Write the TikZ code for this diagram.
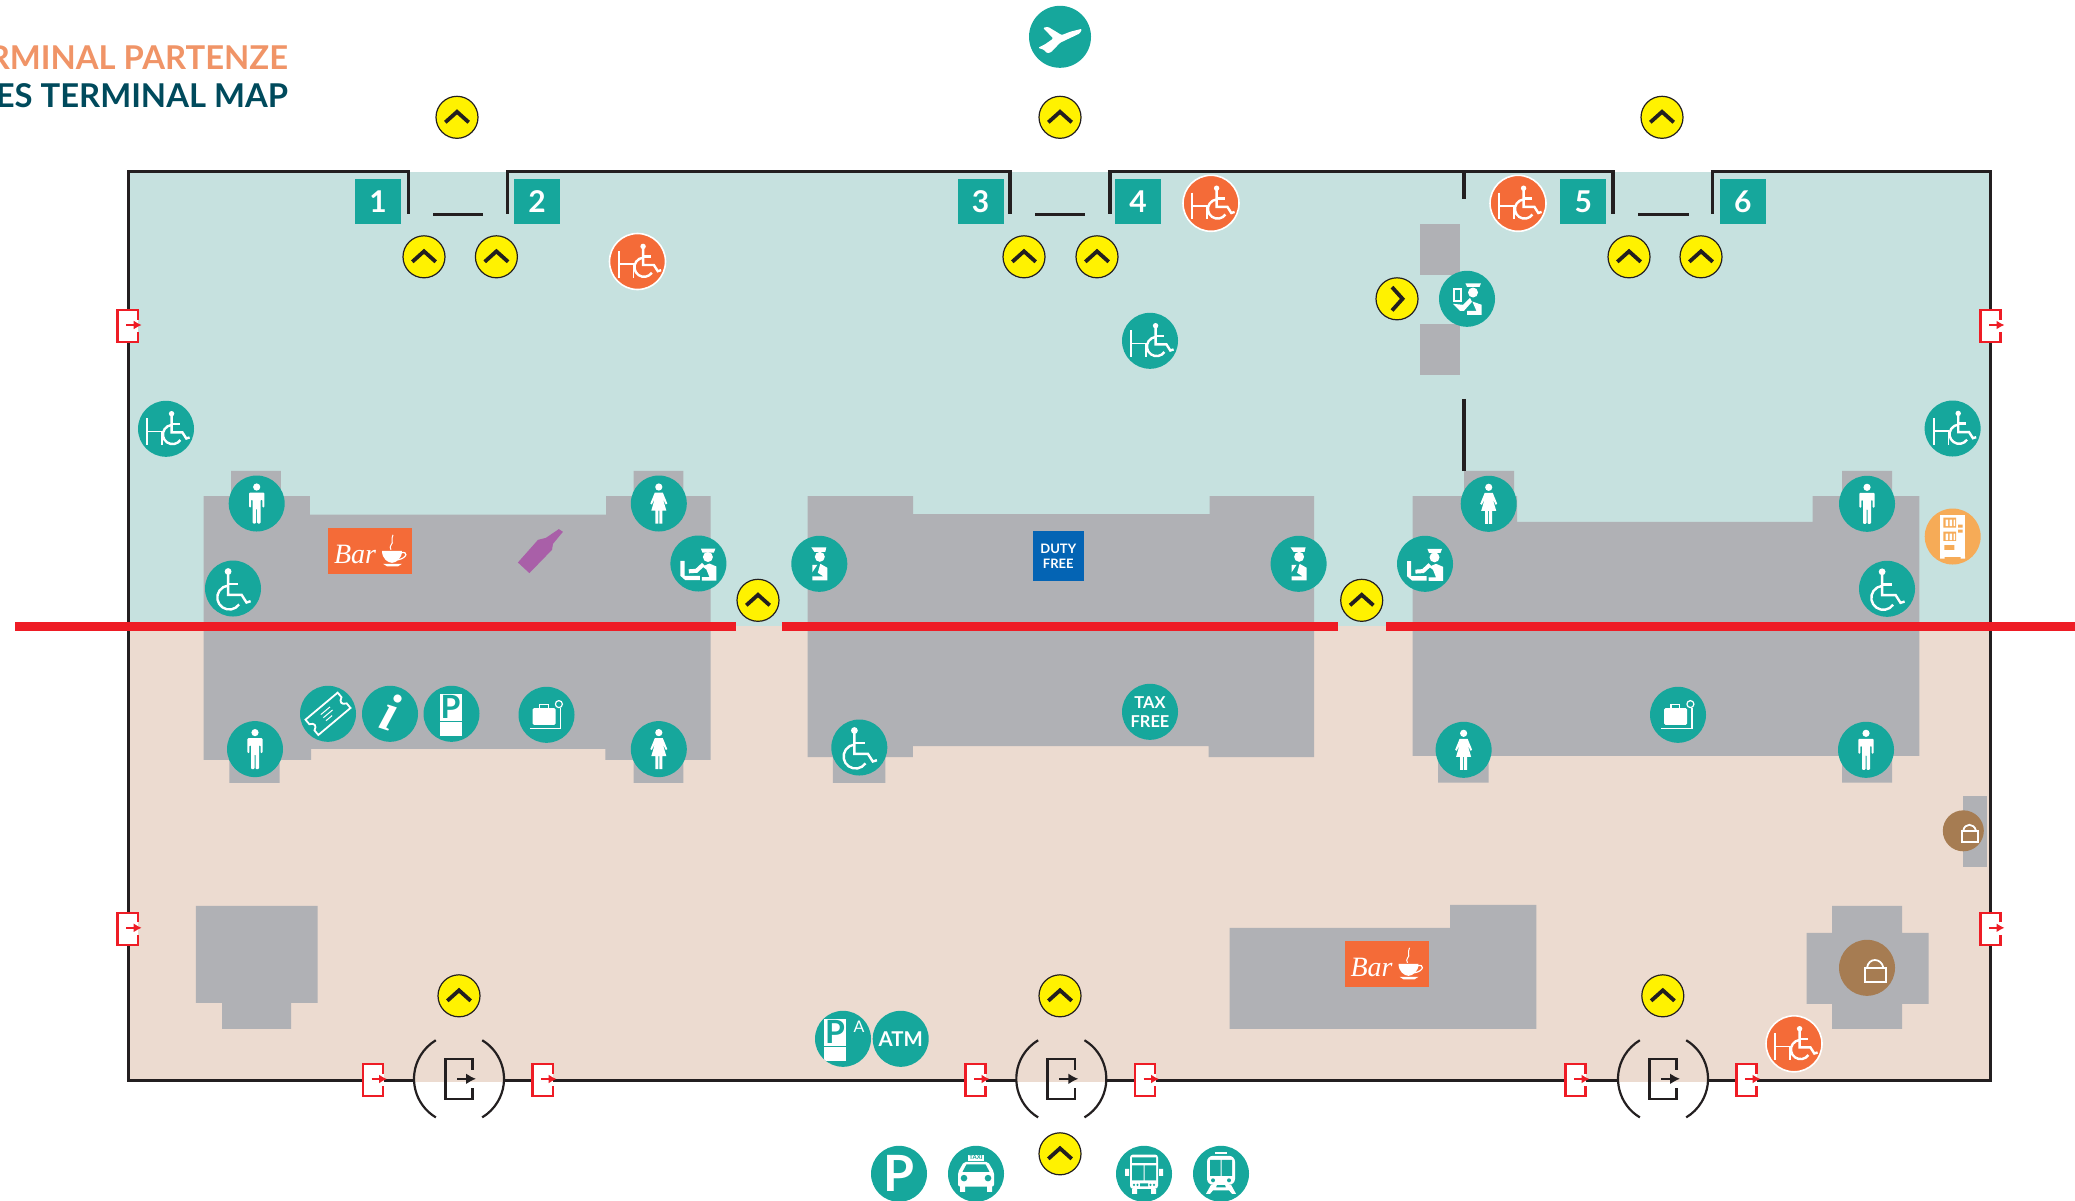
\documentclass[tikz,border=0pt]{standalone}
\usepackage{fontspec}
\setmainfont{Lato}
\newfontfamily\barfont{Liberation Serif}
\usetikzlibrary{arrows.meta, positioning}

\definecolor{mapteal}{HTML}{16A79C}
\definecolor{landside}{HTML}{ECDBD0}
\definecolor{airside}{HTML}{C6E1DF}
\definecolor{blockgray}{HTML}{B0B1B5}
\definecolor{mapred}{HTML}{EE1C25}
\definecolor{mapyellow}{HTML}{FFF200}
\definecolor{mapdark}{HTML}{231F20}
\definecolor{maporange}{HTML}{F46B38}
\definecolor{vendorange}{HTML}{F6AB57}
\definecolor{shopbrown}{HTML}{A67C52}
\definecolor{titleorange}{HTML}{F09467}
\definecolor{titleteal}{HTML}{004A5C}
\definecolor{dutyblue}{HTML}{0464B4}
\definecolor{winepurple}{HTML}{A95FA8}

\begin{document}
\begin{tikzpicture}[
		x=0.5pt,
		y=-0.5pt,
		nodes = {
			align = center
		},
		tealdot/.style={
			circle,
			fill=mapteal,
			text=white,
			inner sep=0pt,
			minimum size=28pt,
			path picture={\pic at (path picture bounding box.center) {#1};}
		},
		tealdot/.default=blank,
		warmdot/.style={
			tealdot=#1,
			fill=maporange,
			draw=white,
			line width=0.8pt
		},
		updot/.style={
			circle,
			draw=mapdark,
			fill=mapyellow,
			line width=0.6pt,
			inner sep=0pt,
			minimum size=21pt,
			path picture={\pic[rotate=#1] at (path picture bounding box.center) {chevron};}
		},
		updot/.default=0,
		numbox/.style={
			rectangle,
			fill=mapteal,
			text=white,
			inner sep=0pt,
			minimum width=23pt,
			minimum height=22.5pt,
			font=\fontsize{15}{15}\selectfont\bfseries
		},
		barbox/.style={
			rectangle,
			fill=maporange,
			inner sep=0pt,
			minimum width=42pt,
			minimum height=23pt
		},
		wall/.style={
			draw=mapdark,
			line width=1.6pt
		},
		block/.style={
			fill=blockgray
		},
		white line/.style={
			draw=white,
			line width=#1
		},
		white line/.default=1pt,
		blank/.pic={},
		chevron/.pic={
			\draw[mapdark,line width=1.9pt] (-11.7,5) -- (0,-5.5) -- (11.7,5);
		},
		man/.pic={
			\fill[white] (0,-16.5) circle (3.6);
			\fill[white,rounded corners=0.5pt] (-7.6,4) -- (-7.6,-11) -- (7.6,-11) -- (7.6,4) -- (5.6,4) -- (5.6,-4) -- (4,-4) -- (4,20) -- (0.5,20) -- (0.5,5) -- (-0.5,5) -- (-0.5,20) -- (-4,20) -- (-4,-4) -- (-5.6,-4) -- (-5.6,4) -- cycle;
		},
		woman/.pic={
			\fill[white] (0,-16.5) circle (3.6);
			\fill[white] (-4,-11) -- (4,-11) -- (8.5,0) -- (7,1) -- (4,-5) -- (7.5,7) -- (3.5,7) -- (3.5,20) -- (0.5,20) -- (0.5,7) -- (-0.5,7) -- (-0.5,20) -- (-3.5,20) -- (-3.5,7) -- (-7.5,7) -- (-4,-5) -- (-7,1) -- (-8.5,0) -- cycle;
		},
		wheelsign/.pic={
			\fill[white] (-4.9,-17) circle (3.4);
			\draw[white line=1.2pt] (-4.9,-15) -- (-4.9,6.3) -- (8.6,6.3) -- (13.5,14) -- (17.6,12.7);
			\draw[white line=1.2pt] (-4.9,-4.3) -- (5.3,-4.3);
			\draw[white line=1.2pt] (-3.7,9) ++(35:12) arc[start angle=35,end angle=265,radius=12];
		},
		chairsign/.pic={
			\draw[white line=0.8pt] (-18.8,-10.7) -- (-18.8,16) (-18.8,2.7) -- (-4,2.7) -- (-4,16);
			\pic[scale=0.8] at (9.5,-1.5) {wheelsign};
		},
		guard/.pic={
			\fill[white] (-8,-16.5) -- (7,-16.5) -- (6,-12) -- (-5,-12) -- cycle;
			\fill[white] (0.5,-7) circle (5);
			\fill[white] (-7,1) -- (-2,1) -- (-7,8.5) -- cycle;
			\fill[white] (1,0) -- (8,4) -- (8,16.5) -- (-7,16.5) -- (-7,12.5) -- (4,12.5) -- (-1.5,9) -- cycle;
		},
		deskguard/.pic={
			\fill[white] (2.4,-15) -- (17,-15) -- (15.5,-11) -- (4,-11) -- cycle;
			\fill[white] (9.5,-6.5) circle (5);
			\fill[white] (4,3) -- (11,0) -- (18,3) -- (18,17) -- (3.5,17) -- (3.5,13.5) -- (11,13.5) -- (8,6) -- cycle;
			\fill[white] (-18,-2.7) -- (-13.8,-2.7) -- (-13.8,12.3) -- (1.5,12.3) -- (1.5,16.7) -- (-13,16.7) -- (-18,12.3) -- cycle;
			\draw[white line=2pt] (-9.6,7.8) -- (-2,7.3) -- (5,0.8);
		},
		passguard/.pic={
			\fill[white] (-1.6,-15.5) -- (14,-15.5) -- (12.5,-12) -- (0,-12) -- cycle;
			\fill[white] (6,-6.3) circle (5);
			\fill[white] (5.3,2.7) -- (14.7,6) -- (14.7,16) -- (0,16) -- (0,12) -- (9.4,12) -- cycle;
			\draw[white line=0.9pt] (-13,-9.7) rectangle (-6,2);
			\fill[white] (-14,5) -- (-4,6) -- (3,-1) -- (5,3) -- (-3,12) -- (-7,12) -- cycle;
		},
		plane/.pic={
			\fill[white,rounded corners=0.6pt] (22,-8) -- (10,-5) -- (1.7,-1.7) -- (-12,-10) -- (-17,-9) -- (-6.7,1.7) -- (-15,7.5) -- (-22,11) -- (-16,13) -- (-13,16.5) -- (-9,15.5) -- (0,6) -- (20,-3.5) -- cycle;
		},
		vending/.pic={
			\fill[white] (-12.7,-21.7) rectangle (12.3,20);
			\fill[white] (-12.7,20) rectangle (-8,22) (8,20) rectangle (12.3,22);
			\fill[vendorange] (-9.3,-19) rectangle (3.3,-9) (-9.3,-5) rectangle (3.3,4.3);
			\fill[vendorange] (-8.3,8.7) rectangle (1.7,13.3) (5.5,-12) rectangle (10,-9) (5.5,-7) rectangle (10,-4);
			\fill[white] (-7,-17) rectangle ++(2.5,6.5) (-3,-17) rectangle ++(2.5,6.5) (1,-17) rectangle ++(1.5,6.5);
			\fill[white] (-7,-3) rectangle ++(2.5,6.5) (-3,-3) rectangle ++(2.5,6.5) (1,-3) rectangle ++(1.5,6.5);
		},
		shopbag/.pic={
			\draw[white line=0.9pt] (-1.7,0) rectangle (14.3,11);
			\draw[white line=0.9pt] (0,0) .. controls (1,-8) and (11,-8) .. (12.6,0);
		},
		bigbag/.pic={
			\pic[scale=1.3] at (0,0) {shopbag};
		},
		scaleicon/.pic={
			\fill[white,rounded corners=0.6pt] (-13.8,-6.7) rectangle (9,10);
			\draw[white line=0.6pt] (-7,-6.7) -- (-7,-10) -- (1.7,-10) -- (1.7,-6.7);
			\draw[white line=0.6pt] (12.4,-10.7) circle (3.5);
			\draw[white line=0.6pt] (14,-7) -- (14,13.3) -- (-17,13.3);
		},
		ticket/.pic={
			\begin{scope}[rotate=40]
				\draw[white line=0.9pt] (-21,-10) -- (21,-10) -- (21,-4) .. controls (16,-2) and (16,2) .. (21,4) -- (21,10) -- (-21,10) -- (-21,4) .. controls (-16,2) and (-16,-2) .. (-21,-4) -- cycle;
				\draw[white line=0.5pt] (-6,-4) -- (6,-4) (-6,0) -- (6,0) (-6,4) -- (2,4);
			\end{scope}
		},
		infosign/.pic={
			\node[rotate=-18,text=white,font=\fontsize{27}{27}\selectfont\barfont\bfseries\itshape] (infotext) at (0,-2) {i};
		},
		parkticket/.pic={
			\fill[white] (-12,-20) rectangle (10,22);
			\draw[mapteal,line width=0.6pt] (-12,8) -- (10,8);
			\node[text=mapteal,font=\fontsize{16}{16}\selectfont\bfseries] (parktext) at (-1,-7) {P};
		},
		parkarea/.pic={
			\pic at (-7,0) {parkticket};
			\node[text=white,font=\fontsize{8}{8}\selectfont] (areatext) at (16,-12) {A};
		},
		taxi/.pic={
			\fill[white] (-8,-19.3) rectangle (8,-13.3);
			\node[text=mapteal,font=\fontsize{3}{3}\selectfont\bfseries] (taxitext) at (0,-16.3) {TAXI};
			\fill[white,rounded corners=1pt] (-18,-1.7) -- (-12,-12) -- (12,-12) -- (18,-1.7) -- (18,12.7) -- (-18,12.7) -- cycle;
			\fill[mapteal] (-9.5,-9.5) -- (9.5,-9.5) -- (13.5,-2) -- (-13.5,-2) -- cycle;
			\fill[mapteal] (-12,4.3) circle (3.3) (12,4.3) circle (3.3);
			\fill[white] (-16,12) rectangle (-11,18) (11,12) rectangle (16,18);
		},
		bus/.pic={
			\fill[white,rounded corners=1.5pt] (-14,-19.3) rectangle (14,15);
			\fill[white] (-12,15) rectangle (-7,20) (7,15) rectangle (12,20);
			\fill[white] (-19,-5) rectangle (-15,2) (15,-5) rectangle (19,2);
			\fill[mapteal] (-12,-16.5) rectangle (12,-11) (-12,-8.5) rectangle (-0.5,6.5) (0.5,-8.5) rectangle (12,6.5);
			\fill[mapteal] (-10,11) circle (1.2) (-6.5,11) circle (1.2) (6.5,11) circle (1.2) (10,11) circle (1.2) (-4,9.5) rectangle (4,12.5);
		},
		train/.pic={
			\fill[white,rounded corners=3pt] (-14,-18) rectangle (14,11);
			\fill[mapteal] (-11,-14) rectangle (-0.5,2) (0.5,-14) rectangle (11,2);
			\fill[mapteal] (-8,6.5) circle (2) (8,6.5) circle (2);
			\fill[white] (-6,-22) rectangle (6,-19.5);
			\fill[white] (-10,11) -- (-4,11) -- (-5,13.5) -- (5,13.5) -- (4,11) -- (10,11) -- (15,20) -- (11,20) -- (8,16.5) -- (-8,16.5) -- (-11,20) -- (-15,20) -- cycle;
		},
		barsign/.pic={
			\node[text=white,font=\fontsize{14}{14}\selectfont\barfont\itshape] (bartext) at (-15,4) {Bar};
			\fill[white] (12,0) -- (32,0) .. controls (32,8) and (26,12) .. (22,12) .. controls (18,12) and (12,8) .. (12,0) -- cycle;
			\fill[white] (13,13) -- (32,13) -- (28,15.5) -- (17,15.5) -- cycle;
			\draw[white line=0.6pt] (31,2) .. controls (38,0) and (38,7) .. (28,9);
			\draw[white line=0.5pt] (21,-1) .. controls (18,-5) and (24,-7) .. (22,-10) .. controls (21,-12) and (23,-14) .. (23,-16);
		},
		exitdoor/.pic={
			\fill[white] (-10.7,-16.5) rectangle (10.7,16.5);
			\draw[mapred,line width=1.2pt] (10.1,-6.5) -- (10.1,-16) -- (-10.1,-16) -- (-10.1,16) -- (10.1,16) -- (10.1,6);
			\draw[mapred,line width=1pt,>={Latex[length=4pt,width=4.5pt]},->] (-1.5,-1) -- (14,-1);
		},
		revdoor/.pic={
			\draw[mapdark,line width=1.1pt] (121:45) arc[start angle=121,end angle=239,radius=45];
			\draw[mapdark,line width=1.1pt] (-59:45) arc[start angle=-59,end angle=59,radius=45];
			\draw[mapdark,line width=1.3pt] (13.7,-9) -- (13.7,-20) -- (-13.7,-20) -- (-13.7,20) -- (13.7,20) -- (13.7,9);
			\draw[mapdark,line width=1pt,>={Latex[length=5pt,width=5.5pt]},->] (-2,0) -- (17,0);
		}
	]
	\useasboundingbox (0,-0.8) rectangle (2075,1199.2);

	% floors
	\fill[airside] (128.5,171) rectangle (1990.5,625.5);
	\fill[landside] (128.5,625.5) rectangle (1990.5,1081);

	% gray blocks
	\fill[block] (203.7,495.3) -- (231,495.3) -- (231,470) -- (280.8,470) -- (280.8,495.3) -- (309.8,495.3) -- (309.8,513.7) -- (606,513.7) -- (606,495.3) -- (633.5,495.3) -- (633.5,470) -- (683.3,470) -- (683.3,495.3) -- (710.6,495.3) -- (710.6,759) -- (683.3,759) -- (683.3,782) -- (633.5,782) -- (633.5,759) -- (605.3,759) -- (605.3,748) -- (311,748) -- (311,759) -- (279.6,759) -- (279.6,782) -- (229.4,782) -- (229.4,759) -- (203.7,759) -- cycle;
	\fill[block] (807.5,495.3) -- (913,495.3) -- (913,513.3) -- (1209.6,513.3) -- (1209.6,495.3) -- (1314,495.3) -- (1314,756.3) -- (1208.6,756.3) -- (1208.6,745.3) -- (912.9,745.3) -- (912.9,756.3) -- (885.4,756.3) -- (885.4,782) -- (832.9,782) -- (832.9,756.3) -- (807.5,756.3) -- cycle;
	\fill[block] (1412.7,495.3) -- (1464,495.3) -- (1464,470) -- (1514,470) -- (1514,495.3) -- (1517,495.3) -- (1517,521) -- (1812.5,521) -- (1812.5,495.3) -- (1842,495.3) -- (1842,470) -- (1892,470) -- (1892,495.3) -- (1919.3,495.3) -- (1919.3,755) -- (1892,755) -- (1892,781.7) -- (1842,781.7) -- (1842,755) -- (1488.5,755) -- (1488.5,781.7) -- (1438,781.7) -- (1438,755) -- (1412.7,755) -- cycle;
	\fill[block] (1419.6,223) rectangle (1459.6,274);
	\fill[block] (1419.6,323) rectangle (1459.6,373.7);
	\fill[block] (195.8,905) -- (317.6,905) -- (317.6,1002) -- (291,1002) -- (291,1028) -- (222,1028) -- (222,1002) -- (195.8,1002) -- cycle;
	\fill[block] (1229.5,927) -- (1450,927) -- (1450,904) -- (1536.4,904) -- (1536.4,1028) -- (1229.5,1028) -- cycle;
	\fill[block] (1832,905) -- (1902,905) -- (1902,932) -- (1928.5,932) -- (1928.5,1003) -- (1902,1003) -- (1902,1028) -- (1832,1028) -- (1832,1003) -- (1806.6,1003) -- (1806.6,932) -- (1832,932) -- cycle;
	\fill[block] (1963,795) rectangle (1986.7,866);
	\fill[winepurple] (558.8,528.3) -- (562.9,531) -- (553,543) -- (552,549) -- (529.4,572.3) -- (517.9,561.7) -- (538,539) -- (546,537) -- cycle;

	% walls
	\draw[wall] (408.5,213) -- (408.5,171) -- (128.5,171) -- (128.5,1079.5) -- (414,1079.5);
	\draw[wall] (504,1079.5) -- (1016,1079.5);
	\draw[wall] (1106.5,1079.5) -- (1618,1079.5);
	\draw[wall] (1708,1079.5) -- (1990.5,1079.5) -- (1990.5,171) -- (1712.6,171) -- (1712.6,213);
	\draw[wall] (1613,213) -- (1613,171) -- (1110,171) -- (1110,213);
	\draw[wall] (1010,213) -- (1010,171) -- (507.6,171) -- (507.6,213);
	\draw[wall] (433,214) -- (483,214);
	\draw[wall] (1035,214) -- (1085,214);
	\draw[wall] (1638,214) -- (1688.6,214);
	\draw[wall] (1464,171) -- (1464,198);
	\draw[wall] (1464,398) -- (1464,470);

	% red security line
	\fill[mapred] (15,621) rectangle (735.6,630);
	\fill[mapred] (781.8,621) rectangle (1337.5,630);
	\fill[mapred] (1385.5,621) rectangle (2075,630);

	% exits
	\pic (exitw1) at (127.7,325.2) {exitdoor};
	\pic (exitw2) at (127.7,928) {exitdoor};
	\pic (exite1) at (1990.5,325.2) {exitdoor};
	\pic (exite2) at (1990.5,928) {exitdoor};
	\pic (exitb1) at (373,1079.2) {exitdoor};
	\pic (exitb2) at (542.6,1079.2) {exitdoor};
	\pic (exitb3) at (975.5,1079.2) {exitdoor};
	\pic (exitb4) at (1145,1079.2) {exitdoor};
	\pic (exitb5) at (1575.5,1079.2) {exitdoor};
	\pic (exitb6) at (1746.5,1079.2) {exitdoor};
	\pic (door1) at (459,1078) {revdoor};
	\pic (door2) at (1061.3,1078) {revdoor};
	\pic (door3) at (1663,1078) {revdoor};

	% title
	\node[anchor=base east,inner sep=0pt,text=titleorange,font=\fontsize{16.4}{16.4}\selectfont\bfseries] (titleit) at (288.5,68.3) {RMINAL PARTENZE};
	\node[anchor=base east,inner sep=0pt,text=titleteal,font=\fontsize{16.4}{16.4}\selectfont\bfseries] (titleen) at (288.5,106.5) {ES TERMINAL MAP};

	% gates
	\node[numbox] (gate1) at (378,200.5) {1};
	\node[numbox] (gate2) at (537,200.5) {2};
	\node[numbox] (gate3) at (980.5,200.5) {3};
	\node[numbox] (gate4) at (1138,200.5) {4};
	\node[numbox] (gate5) at (1583.2,200.5) {5};
	\node[numbox] (gate6) at (1742.8,200.5) {6};

	% yellow direction marks
	\node[updot] (up1) at (457,116.5) {};
	\node[updot] (up2) at (1060,116.5) {};
	\node[updot] (up3) at (1662,116.5) {};
	\node[updot] (up4) at (424,256) {};
	\node[updot] (up5) at (496.4,256) {};
	\node[updot] (up6) at (1024,256) {};
	\node[updot] (up7) at (1097,256) {};
	\node[updot] (up8) at (1629,256) {};
	\node[updot] (up9) at (1701,256) {};
	\node[updot=-90] (upright) at (1397,298) {};
	\node[updot] (up10) at (758,599.5) {};
	\node[updot] (up11) at (1361.7,599.5) {};
	\node[updot] (up12) at (459,995) {};
	\node[updot] (up13) at (1060,995) {};
	\node[updot] (up14) at (1662.8,995) {};
	\node[updot] (up15) at (1060,1153) {};

	% round signs
	\node[tealdot=plane,minimum size=31pt] (flights) at (1060,36) {};
	\node[warmdot=chairsign] (seat1) at (637.5,260.7) {};
	\node[warmdot=chairsign] (seat2) at (1211,202.5) {};
	\node[warmdot=chairsign] (seat3) at (1518,202.5) {};
	\node[warmdot=chairsign] (seat4) at (1794,1043) {};
	\node[tealdot=chairsign] (seat5) at (1150,340) {};
	\node[tealdot=chairsign] (seat6) at (166,428) {};
	\node[tealdot=chairsign] (seat7) at (1952.6,427.7) {};
	\node[tealdot=passguard] (passport) at (1467,298) {};

	\node[tealdot=man] (man1) at (256.7,502.7) {};
	\node[tealdot=woman] (woman1) at (658.8,502.7) {};
	\node[tealdot=wheelsign] (wheel1) at (233,587.7) {};
	\node[tealdot=deskguard] (desk1) at (698.4,562.7) {};
	\node[tealdot=ticket] (tickets) at (328,713) {};
	\node[tealdot=infosign] (info) at (390,713) {};
	\node[tealdot=parkticket] (parkpay) at (451.5,713) {};
	\node[tealdot=scaleicon] (bags1) at (546.5,714) {};
	\node[tealdot=man] (man2) at (255,748.3) {};
	\node[tealdot=woman] (woman2) at (658.8,748.3) {};

	\node[tealdot=guard] (guard1) at (819.3,563) {};
	\node[tealdot=guard] (guard2) at (1298.6,563) {};
	\node[tealdot,font=\fontsize{8.2}{9.3}\selectfont\bfseries] (taxfree) at (1150,711) {TAX\\FREE};
	\node[tealdot=wheelsign] (wheel2) at (859.3,746.7) {};

	\node[tealdot=deskguard] (desk2) at (1425,563) {};
	\node[tealdot=woman] (woman3) at (1488.7,503) {};
	\node[tealdot=man] (man3) at (1867,503) {};
	\node[tealdot=wheelsign] (wheel3) at (1887,588) {};
	\node[tealdot=scaleicon] (bags2) at (1678,714) {};
	\node[tealdot=woman] (woman4) at (1463.6,749) {};
	\node[tealdot=man] (man4) at (1866,749) {};
	\node[tealdot=vending,fill=vendorange] (drinks) at (1952.7,535.7) {};

	\node[tealdot=bigbag,fill=shopbrown] (shop1) at (1867,967) {};
	\node[tealdot=shopbag,fill=shopbrown,minimum size=20.5pt] (shop2) at (1963.3,830) {};

	\node[tealdot=parkarea] (parka) at (843,1038) {};
	\node[tealdot,font=\fontsize{10.2}{10.2}\selectfont\bfseries] (atm) at (900.7,1038) {ATM};
	\node[tealdot,font=\fontsize{25}{25}\selectfont\bfseries] (parking) at (899,1173) {P};
	\node[tealdot=taxi] (taxistand) at (976,1173) {};
	\node[tealdot=bus] (busstop) at (1144,1173) {};
	\node[tealdot=train] (station) at (1221,1173) {};

	% shops
	\node[barbox] (bar1) at (370,550) {};
	\pic at (bar1) {barsign};
	\node[barbox] (bar2) at (1386.5,963) {};
	\pic at (bar2) {barsign};
	\node[rectangle,fill=dutyblue,text=white,inner sep=0pt,minimum width=25.3pt,minimum height=25pt,font=\fontsize{6.5}{7.5}\selectfont\bfseries] (duty) at (1058.3,555) {DUTY\\FREE};
\end{tikzpicture}
\end{document}
